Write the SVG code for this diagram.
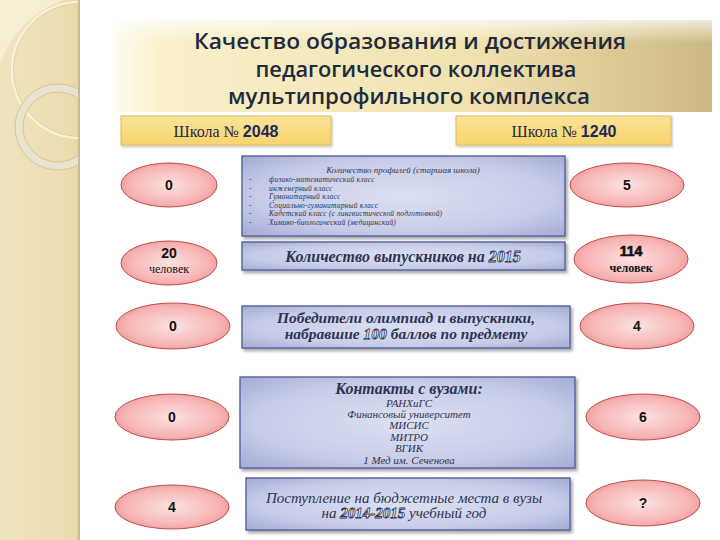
<svg xmlns="http://www.w3.org/2000/svg" width="720" height="540" viewBox="0 0 720 540">
<defs>
<linearGradient id="strip" x1="0" y1="0" x2="1" y2="0">
<stop offset="0" stop-color="#F0E4BD"/><stop offset="0.9" stop-color="#ECDDB0"/><stop offset="1" stop-color="#E3D2A2"/>
</linearGradient>
<linearGradient id="banner" x1="0" y1="0" x2="1" y2="0">
<stop offset="0" stop-color="#FFFDF3"/><stop offset="0.08" stop-color="#F9EFC9"/><stop offset="0.6" stop-color="#F1E2B0"/><stop offset="1" stop-color="#CDB982"/>
</linearGradient>
<linearGradient id="bannerTop" x1="0" y1="0" x2="0" y2="1">
<stop offset="0" stop-color="#FFFFFF" stop-opacity="0.7"/><stop offset="0.25" stop-color="#FFFFFF" stop-opacity="0"/>
</linearGradient>
<linearGradient id="gold" x1="0" y1="0" x2="0" y2="1">
<stop offset="0" stop-color="#FBE49A"/><stop offset="1" stop-color="#F6D36C"/>
</linearGradient>
<radialGradient id="blue" cx="0.5" cy="0.5" r="0.75">
<stop offset="0" stop-color="#DCE0F2"/><stop offset="0.6" stop-color="#C6CCE8"/><stop offset="1" stop-color="#9CA5D2"/>
</radialGradient>
<radialGradient id="pink" cx="0.5" cy="0.5" r="0.6">
<stop offset="0" stop-color="#FDE2E2"/><stop offset="0.7" stop-color="#F6B3B3"/><stop offset="1" stop-color="#EE8C8C"/>
</radialGradient>
<filter id="sh" x="-10%" y="-20%" width="125%" height="150%">
<feDropShadow dx="2" dy="2.5" stdDeviation="1.6" flood-color="#000" flood-opacity="0.35"/>
</filter>
<filter id="shs" x="-10%" y="-20%" width="125%" height="150%">
<feDropShadow dx="1" dy="1.5" stdDeviation="1" flood-color="#000" flood-opacity="0.25"/>
</filter>
<clipPath id="stripClip"><rect x="0" y="0" width="79" height="540"/></clipPath>
</defs>
<style>
.title{font-family:"Open Sans","Noto Sans",sans-serif;font-weight:600;font-size:21px;fill:#1E2A3E;text-anchor:middle}
.school{font-family:"Liberation Serif",serif;font-size:16px;fill:#1F2A44;text-anchor:middle}
.schoolnum{font-family:"Liberation Sans",sans-serif;font-weight:bold;fill:#1B2A5C}
.box{fill:url(#blue);stroke:#56609A;stroke-width:1.4;filter:url(#sh)}
.gold{fill:url(#gold);stroke:#E3BC55;stroke-width:1;filter:url(#shs)}
.ell{fill:url(#pink);stroke:#B9504C;stroke-width:1}
.num{font-family:"Liberation Sans",sans-serif;font-weight:bold;font-size:14px;fill:#111;text-anchor:middle}
.it{font-family:"Liberation Serif",serif;font-style:italic;fill:#2E3450;text-anchor:middle}
.b{font-weight:bold}
.out{fill:#FFFFFF;stroke:#2E3450;stroke-width:0.8;font-weight:bold}
.sm{font-family:"Liberation Serif",serif;font-style:italic;font-size:7.5px;letter-spacing:0.2px;fill:#2E3450}
.ct{font-size:11px}
</style>
<rect x="0" y="0" width="720" height="540" fill="#FFFFFF"/>
<g id="strip-decor">
<rect x="0" y="0" width="79" height="540" fill="url(#strip)"/>
<g clip-path="url(#stripClip)">
<path d="M0,0 L63,0 Q18,18 0,63 Z" fill="#F6EDD2"/>
<circle cx="80" cy="70" r="68" fill="none" stroke="#F8F2DE" stroke-width="2.2"/>
<circle cx="80" cy="70" r="66.5" fill="none" stroke="#D9C99A" stroke-width="0.6"/>
<circle cx="58" cy="127" r="39" fill="none" stroke="#E9E3D0" stroke-width="8"/>
<circle cx="58" cy="127" r="43" fill="none" stroke="#CDBE96" stroke-width="0.8"/>
<circle cx="58" cy="127" r="35" fill="none" stroke="#CDBE96" stroke-width="0.8"/>
</g>
<rect x="78" y="0" width="2" height="540" fill="#C9B98E"/>
</g>
<g id="title">
<rect x="113" y="20" width="599" height="92" fill="url(#banner)"/>
<rect x="113" y="20" width="599" height="92" fill="url(#bannerTop)"/>
<text class="title" x="410" y="49" textLength="432" lengthAdjust="spacingAndGlyphs">Качество образования и достижения</text>
<text class="title" x="416" y="77" textLength="321" lengthAdjust="spacingAndGlyphs">педагогического коллектива</text>
<text class="title" x="409" y="104" textLength="362" lengthAdjust="spacingAndGlyphs">мультипрофильного комплекса</text>
</g>
<g id="school-2048">
<rect class="gold" x="121" y="116" width="210" height="29"/>
<text class="school" x="226" y="137">Школа № <tspan class="schoolnum">2048</tspan></text>
</g>
<g id="school-1240">
<rect class="gold" x="456" y="116" width="215" height="29"/>
<text class="school" x="564" y="137">Школа № <tspan class="schoolnum">1240</tspan></text>
</g>
<g id="box-profiles">
<rect class="box" x="242" y="156" width="323" height="80"/>
<text class="it" x="403" y="173" font-size="9">Количество профилей (старшая школа)</text>
<g class="sm">
<text x="249" y="182">-</text><text x="269" y="182">физико-математический класс</text>
<text x="249" y="190.5">-</text><text x="269" y="190.5">инженерный класс</text>
<text x="249" y="199">-</text><text x="269" y="199">Гуманитарный класс</text>
<text x="249" y="207.5">-</text><text x="269" y="207.5">Социально-гуманитарный класс</text>
<text x="249" y="216">-</text><text x="269" y="216">Кадетский класс (с лингвистической подготовкой)</text>
<text x="249" y="224.5">-</text><text x="269" y="224.5">Химико-биологический (медицинский)</text>
</g>
</g>
<g id="box-graduates">
<rect class="box" x="242" y="242" width="323" height="28"/>
<text class="it b" x="403" y="262" font-size="16">Количество выпускников на <tspan class="out">2015</tspan></text>
</g>
<g id="box-olympiad">
<rect class="box" x="242" y="306" width="328" height="42"/>
<text class="it b" x="406" y="323" font-size="15.5">Победители олимпиад и выпускники,</text>
<text class="it b" x="406" y="339" font-size="15.5">набравшие <tspan class="out">100</tspan> баллов по предмету</text>
</g>
<g id="box-contacts">
<rect class="box" x="240" y="377" width="335" height="91"/>
<text class="it b" x="409" y="394" font-size="16">Контакты с вузами:</text>
<text class="it ct" x="409" y="406.5">РАНХиГС</text>
<text class="it ct" x="409" y="417.9">Финансовый университет</text>
<text class="it ct" x="409" y="429.3">МИСИС</text>
<text class="it ct" x="409" y="440.7">МИТРО</text>
<text class="it ct" x="409" y="452.1">ВГИК</text>
<text class="it ct" x="409" y="463.5">1 Мед им. Сеченова</text>
</g>
<g id="box-admission">
<rect class="box" x="246" y="478" width="324" height="52"/>
<text class="it" x="404" y="503" font-size="15">Поступление на бюджетные места в вузы</text>
<text class="it" x="404" y="518" font-size="15">на <tspan class="out">2014-2015</tspan> учебный год</text>
</g>
<g id="l1"><ellipse class="ell" cx="169" cy="185" rx="48" ry="22"/><text class="num" x="169" y="190">0</text></g>
<g id="l2"><ellipse class="ell" cx="169" cy="263" rx="48" ry="22"/><text class="num" x="169" y="258" font-size="15">20</text><text x="169" y="273" font-family="Liberation Serif, serif" font-size="12" fill="#111" text-anchor="middle">человек</text></g>
<g id="l3"><ellipse class="ell" cx="173" cy="326" rx="57" ry="23"/><text class="num" x="173" y="331">0</text></g>
<g id="l4"><ellipse class="ell" cx="172" cy="417" rx="57" ry="23"/><text class="num" x="172" y="422">0</text></g>
<g id="l5"><ellipse class="ell" cx="172" cy="507" rx="57" ry="22"/><text class="num" x="172" y="512">4</text></g>
<g id="r1"><ellipse class="ell" cx="627" cy="185" rx="57" ry="22"/><text class="num" x="627" y="190">5</text></g>
<g id="r2"><ellipse class="ell" cx="631" cy="259" rx="57" ry="24"/><text class="num" x="631" y="256" font-size="15" fill="#555" stroke="#111" stroke-width="0.7">114</text><text x="631" y="272" font-family="Liberation Serif, serif" font-weight="bold" font-size="12" fill="#111" text-anchor="middle">человек</text></g>
<g id="r3"><ellipse class="ell" cx="637" cy="326" rx="57" ry="23"/><text class="num" x="637" y="331">4</text></g>
<g id="r4"><ellipse class="ell" cx="643" cy="417" rx="57" ry="23"/><text class="num" x="643" y="422">6</text></g>
<g id="r5"><ellipse class="ell" cx="643" cy="503" rx="57" ry="23"/><text class="num" x="643" y="508">?</text></g>
<g id="connectors"></g>
</svg>
